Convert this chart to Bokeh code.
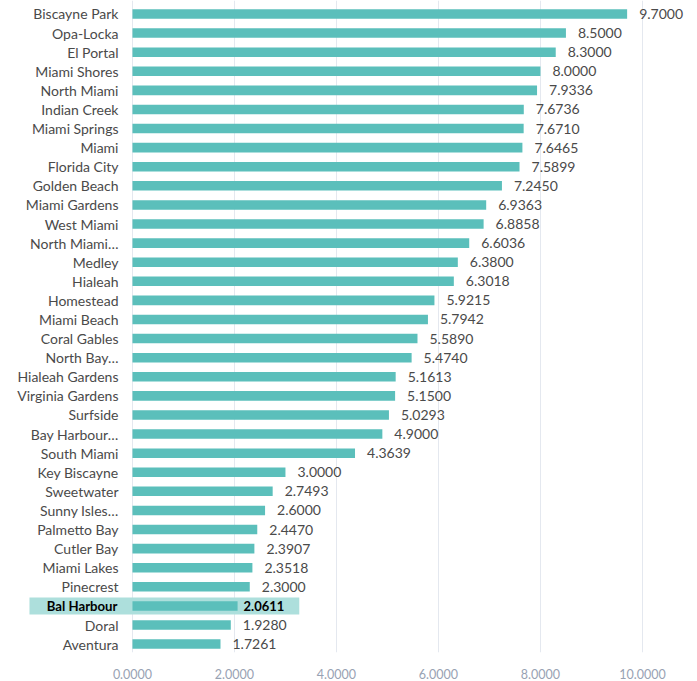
from bokeh.plotting import figure
from bokeh.models import Range1d, FixedTicker, ColumnDataSource, NumeralTickFormatter
from bokeh.core.properties import value
from bokeh.embed import file_html
from bokeh.resources import INLINE

categories = ["Biscayne Park", "Opa-Locka", "El Portal", "Miami Shores", "North Miami",
              "Indian Creek", "Miami Springs", "Miami", "Florida City", "Golden Beach",
              "Miami Gardens", "West Miami", "North Miami…", "Medley", "Hialeah",
              "Homestead", "Miami Beach", "Coral Gables", "North Bay…", "Hialeah Gardens",
              "Virginia Gardens", "Surfside", "Bay Harbour…", "South Miami", "Key Biscayne",
              "Sweetwater", "Sunny Isles…", "Palmetto Bay", "Cutler Bay", "Miami Lakes",
              "Pinecrest", "Bal Harbour", "Doral", "Aventura"]
values = [9.7000, 8.5000, 8.3000, 8.0000, 7.9336,
          7.6736, 7.6710, 7.6465, 7.5899, 7.2450,
          6.9363, 6.8858, 6.6036, 6.3800, 6.3018,
          5.9215, 5.7942, 5.5890, 5.4740, 5.1613,
          5.1500, 5.0293, 4.9000, 4.3639, 3.0000,
          2.7493, 2.6000, 2.4470, 2.3907, 2.3518,
          2.3000, 2.0611, 1.9280, 1.7261]
x_ticks = [0, 2, 4, 6, 8, 10]
highlight = "Bal Harbour"

BAR = "#5bbfbb"
HL = "#addfdc"

idx = list(range(len(categories)))
normal = [i for i in idx if categories[i] != highlight]
hl = [i for i in idx if categories[i] == highlight]

src_n = ColumnDataSource(dict(
    y=[idx[i] for i in normal],
    cat=[categories[i] for i in normal],
    val=[values[i] for i in normal],
    lab=["%.4f" % values[i] for i in normal],
))
src_h = ColumnDataSource(dict(
    y=[idx[i] for i in hl],
    cat=[categories[i] for i in hl],
    val=[values[i] for i in hl],
    lab=["%.4f" % values[i] for i in hl],
    right=[values[i] + 1.21 for i in hl],
))

p = figure(width=697, height=681, output_backend="svg", toolbar_location=None,
           x_range=Range1d(-2.588, 11.08), y_range=Range1d(33.44, -0.706),
           min_border_left=0, min_border_right=0, min_border_top=0, min_border_bottom=28)
p.outline_line_color = None
p.background_fill_color = "white"
p.border_fill_color = "white"

# highlight band
p.hbar(y="y", left=-2.02, right="right", height=0.89, source=src_h,
       fill_color=HL, line_color=None)

p.hbar(y="y", left=0, right="val", height=0.5, source=src_n, fill_color=BAR, line_color=None)
p.hbar(y="y", left=0, right="val", height=0.5, source=src_h, fill_color=BAR, line_color=None)

# category labels
p.text(x=0, y="y", text="cat", source=src_n, x_offset=-14, text_align="right",
       text_baseline="middle", text_font=value("Lato"), text_font_size="14px",
       text_color="#4a4a4a")
p.text(x=0, y="y", text="cat", source=src_h, x_offset=-15, text_align="right",
       text_baseline="middle", text_font=value("Lato"), text_font_size="13.2px",
       text_font_style="bold", text_color="#000000")

# value labels
p.text(x="val", y="y", text="lab", source=src_n, x_offset=12, text_align="left",
       text_baseline="middle", text_font=value("Lato"), text_font_size="14px",
       text_color="#4a4a4a")
p.text(x="val", y="y", text="lab", source=src_h, x_offset=6, text_align="left",
       text_baseline="middle", text_font=value("Lato"), text_font_size="13px",
       text_font_style="bold", text_color="#000000")

p.yaxis.visible = False
p.ygrid.grid_line_color = None
p.xgrid.grid_line_color = "#e4e8ef"
p.xgrid.ticker = FixedTicker(ticks=x_ticks)
p.xaxis.ticker = FixedTicker(ticks=x_ticks)
p.xaxis.formatter = NumeralTickFormatter(format="0.0000")
p.xaxis.axis_line_color = None
p.xaxis.major_tick_line_color = None
p.xaxis.minor_tick_line_color = None
p.xaxis.major_label_standoff = 10
p.xaxis.major_label_text_font = "Lato"
p.xaxis.major_label_text_font_size = "12.5px"
p.xaxis.major_label_text_color = "#98a2b3"

open("out.html", "w").write(file_html(p, INLINE))
